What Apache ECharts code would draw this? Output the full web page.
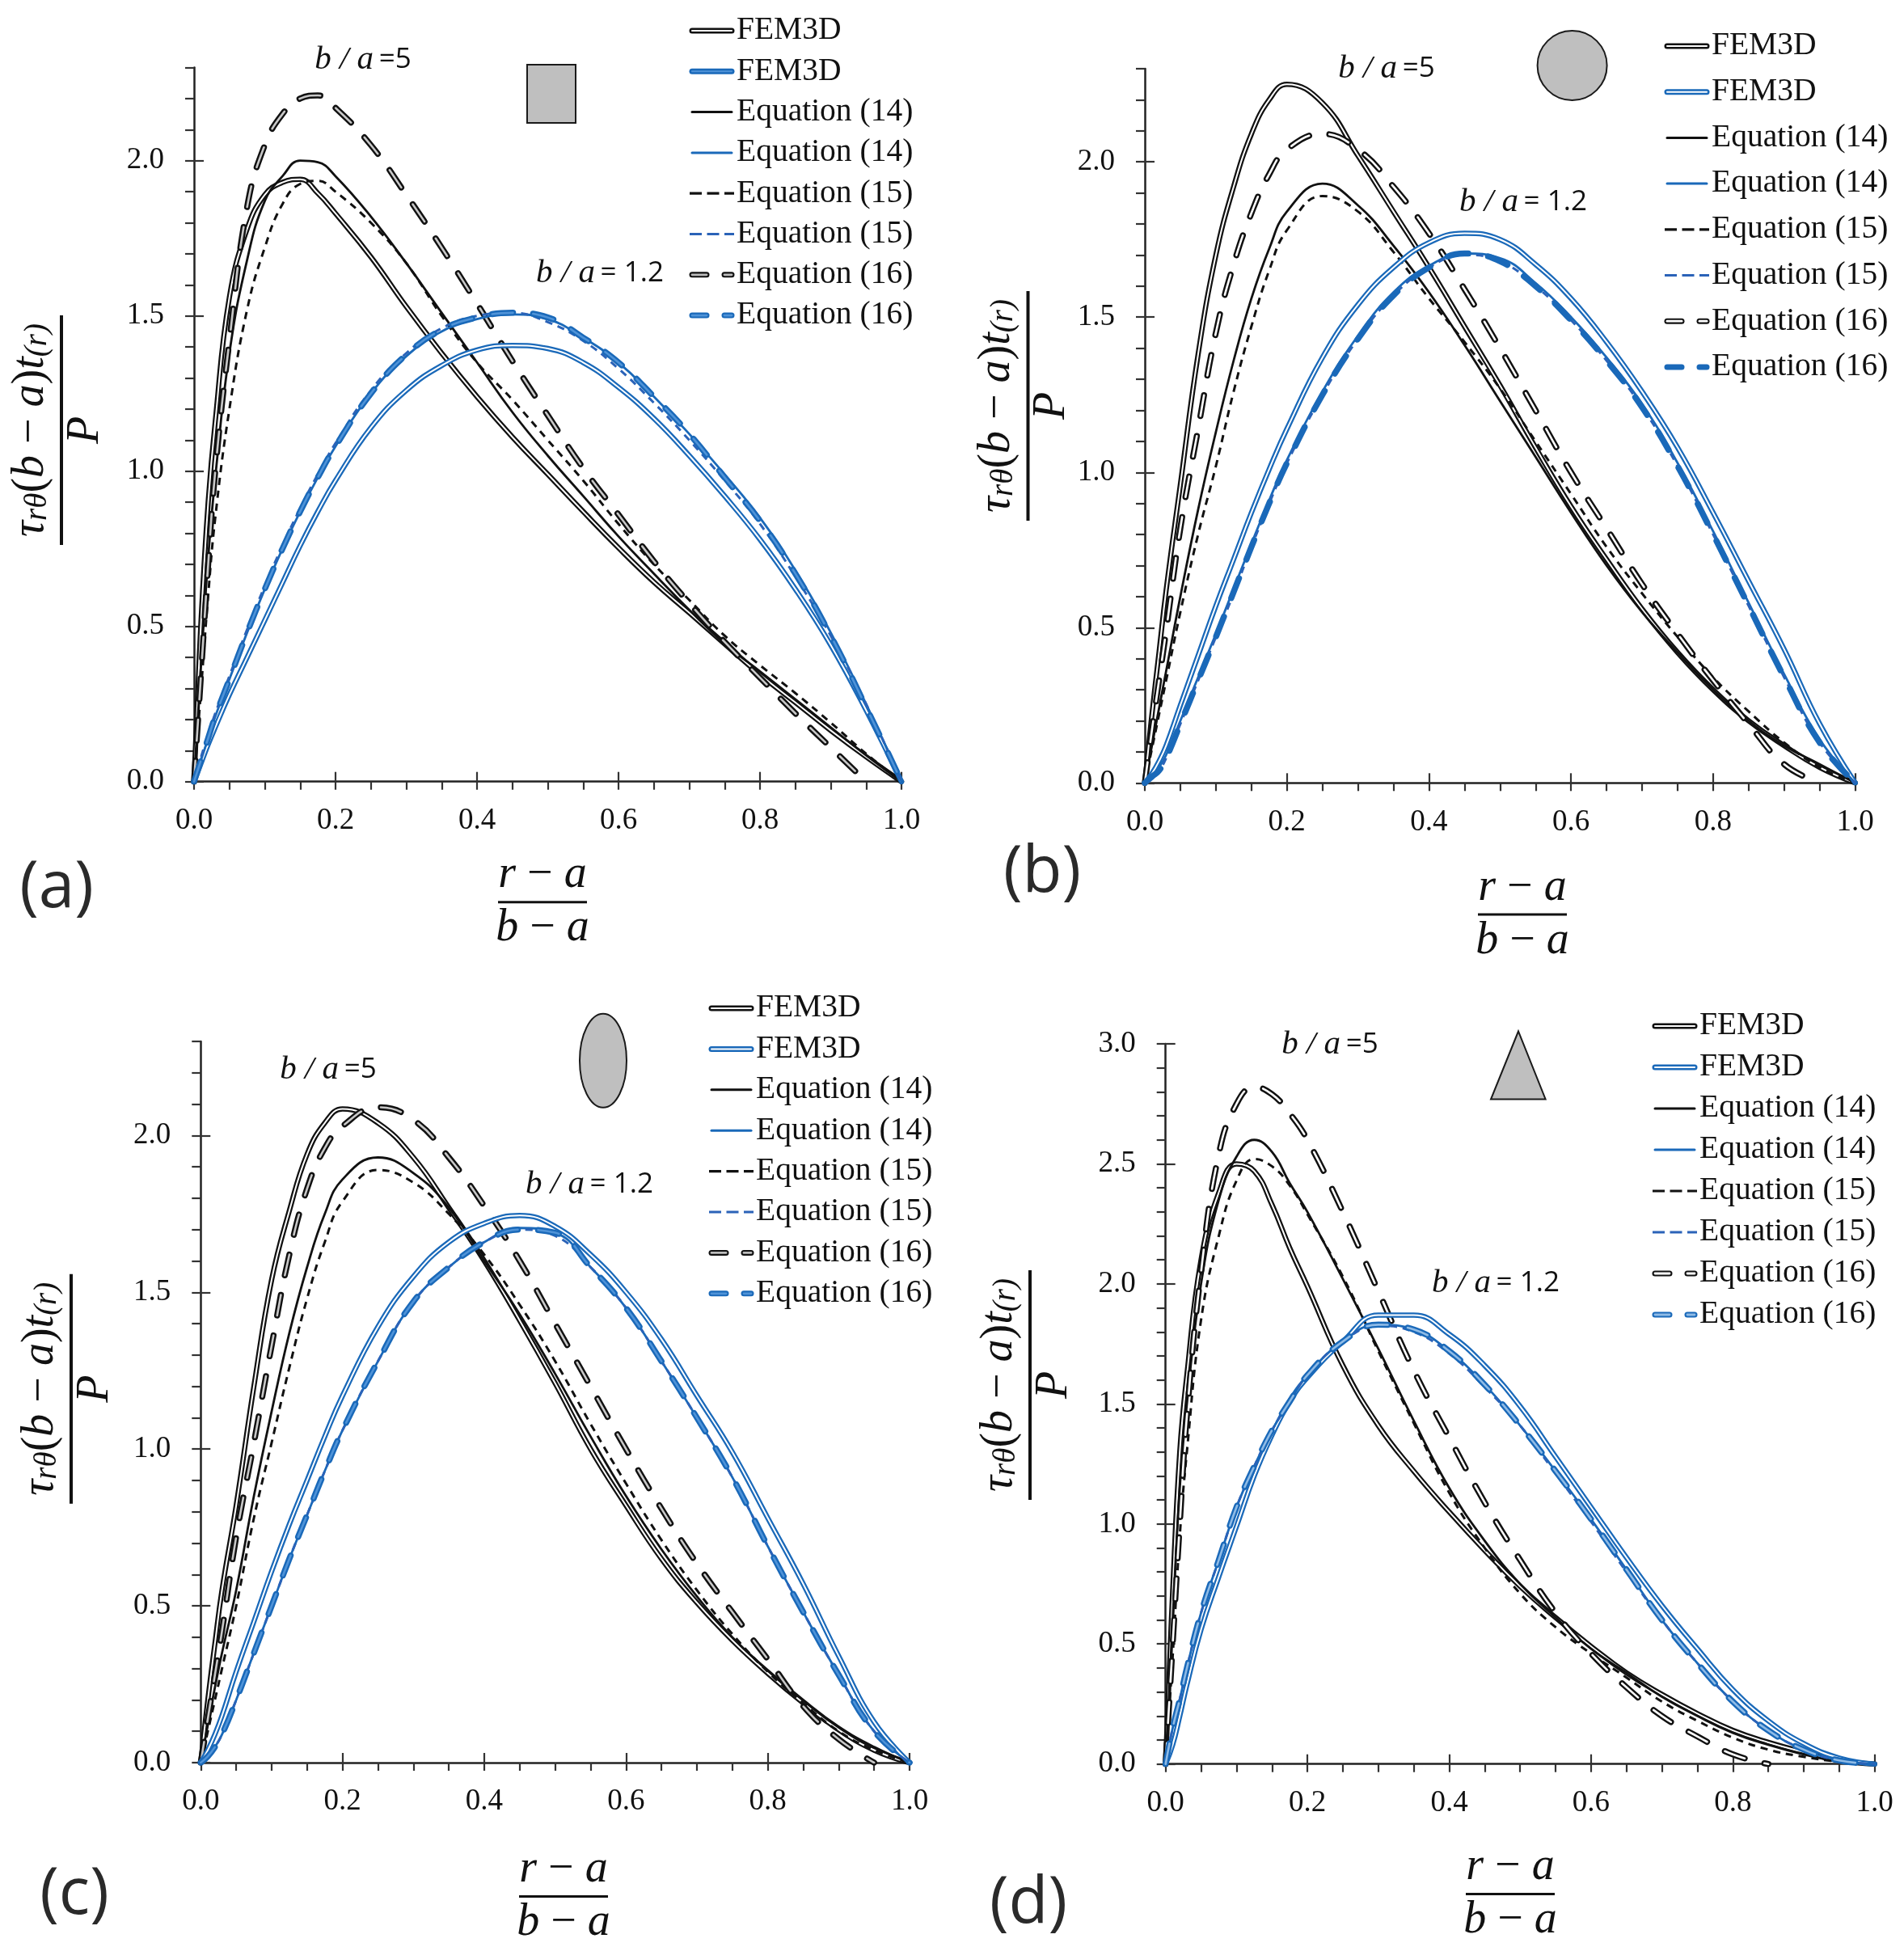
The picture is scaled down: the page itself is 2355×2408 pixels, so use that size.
<!DOCTYPE html>
<html><head><meta charset="utf-8">
<style>html,body{margin:0;padding:0;background:#fff}#c{width:2355px;height:2408px}</style>
<script src="https://cdn.jsdelivr.net/npm/echarts@6/dist/echarts.min.js"></script>
</head><body><div id="c"></div>
<script>
const xs=[0,.01,.02,.03,.05,.075,.1,.125,.15,.175,.2,.25,.3,.35,.4,.45,.5,.55,.6,.65,.7,.75,.8,.85,.9,.95,1];
const xTickLabels=[0,.2,.4,.6,.8,1];
// Panel (a) square
const aKFem=[0,.52,.9,1.16,1.56,1.78,1.89,1.93,1.94,1.895,1.83,1.69,1.53,1.38,1.24,1.11,.99,.87,.753,.643,.544,.444,.345,.255,.165,.08,0];
const aKEq14=[0,.38,.72,.98,1.38,1.68,1.87,1.95,2.0,1.995,1.95,1.82,1.67,1.51,1.35,1.19,1.05,.92,.79,.67,.553,.444,.355,.265,.175,.085,0];
const aKEq15=[0,.3,.6,.85,1.2,1.52,1.72,1.86,1.925,1.935,1.9,1.8,1.67,1.5,1.35,1.23,1.1,.97,.83,.7,.585,.47,.375,.285,.19,.09,0];
const aKEq16=[0,.35,.7,1.0,1.42,1.85,2.05,2.15,2.2,2.21,2.17,2.05,1.89,1.72,1.54,1.355,1.18,1.01,.86,.71,.575,.45,.335,.22,.11,0,null];
const aBFem=[0,.06,.12,.175,.28,.4,.52,.64,.76,.87,.97,1.14,1.26,1.34,1.39,1.405,1.395,1.35,1.27,1.17,1.05,.92,.78,.62,.44,.23,0];
const aBEq14=[0,.07,.14,.21,.33,.48,.62,.75,.87,.98,1.08,1.25,1.37,1.45,1.49,1.505,1.49,1.43,1.35,1.24,1.12,.99,.85,.68,.48,.25,0];
const aBEq15=[0,.08,.15,.22,.34,.49,.63,.76,.88,.99,1.09,1.26,1.38,1.46,1.5,1.51,1.48,1.42,1.33,1.22,1.1,.97,.83,.66,.47,.25,0];
const aBEq16=[0,.07,.14,.21,.33,.48,.62,.75,.87,.98,1.08,1.25,1.375,1.455,1.495,1.51,1.495,1.43,1.35,1.24,1.12,.98,.84,.67,.47,.24,0];
// Panel (b) circle
const bKFem=[0,.22,.42,.62,.96,1.38,1.7,1.92,2.09,2.2,2.25,2.19,2.02,1.84,1.66,1.47,1.28,1.08,.89,.72,.56,.42,.3,.2,.12,.05,0];
const bKEq14=[0,.12,.24,.36,.6,.88,1.13,1.36,1.56,1.72,1.84,1.93,1.86,1.73,1.58,1.41,1.23,1.05,.87,.7,.55,.42,.3,.2,.12,.06,0];
const bKEq15=[0,.11,.22,.33,.55,.8,1.02,1.26,1.47,1.65,1.78,1.89,1.84,1.71,1.56,1.42,1.27,1.1,.93,.76,.61,.47,.34,.23,.13,.05,0];
const bKEq16=[0,.17,.33,.49,.82,1.14,1.45,1.67,1.835,1.96,2.04,2.09,2.04,1.92,1.77,1.59,1.4,1.2,1.0,.82,.64,.48,.33,.19,.06,0,null];
const bBFem=[0,.03,.07,.12,.25,.41,.57,.72,.87,1.01,1.14,1.37,1.54,1.66,1.74,1.77,1.75,1.67,1.56,1.42,1.26,1.08,.87,.65,.43,.19,0];
const bBEq14=[0,.02,.05,.09,.2,.34,.48,.625,.77,.91,1.04,1.26,1.44,1.58,1.665,1.705,1.69,1.61,1.5,1.37,1.22,1.03,.81,.58,.35,.14,0];
const bBEq15=[0,.02,.04,.08,.19,.33,.47,.61,.76,.9,1.03,1.25,1.43,1.57,1.66,1.7,1.68,1.6,1.49,1.36,1.21,1.02,.8,.57,.34,.13,0];
const bBEq16=[0,.02,.04,.08,.19,.33,.47,.615,.76,.9,1.03,1.25,1.43,1.57,1.66,1.705,1.68,1.6,1.49,1.36,1.21,1.02,.8,.57,.34,.13,0];
// Panel (c) ellipse
const cKFem=[0,.2,.38,.55,.82,1.2,1.54,1.76,1.94,2.04,2.085,2.04,1.93,1.77,1.6,1.41,1.21,1.0,.82,.65,.51,.39,.285,.19,.105,.04,0];
const cKEq14=[0,.12,.24,.35,.55,.85,1.12,1.37,1.58,1.75,1.86,1.93,1.88,1.77,1.6,1.43,1.24,1.04,.85,.68,.53,.4,.295,.2,.115,.05,0];
const cKEq15=[0,.1,.2,.3,.5,.78,1.02,1.26,1.48,1.66,1.79,1.89,1.85,1.75,1.62,1.46,1.28,1.08,.89,.71,.55,.41,.29,.19,.1,.04,0];
const cKEq16=[0,.14,.28,.42,.72,1.02,1.33,1.62,1.83,1.96,2.03,2.09,2.05,1.93,1.775,1.6,1.4,1.2,1.0,.81,.635,.48,.33,.18,.075,0,null];
const cBFem=[0,.04,.09,.15,.29,.45,.61,.76,.9,1.04,1.17,1.39,1.55,1.66,1.72,1.745,1.71,1.62,1.5,1.35,1.17,.99,.78,.57,.34,.13,0];
const cBEq14=[0,.02,.05,.09,.2,.35,.5,.65,.79,.93,1.06,1.28,1.47,1.58,1.66,1.705,1.69,1.58,1.45,1.28,1.1,.91,.69,.48,.28,.1,0];
const cBEq15=[0,.02,.05,.09,.2,.35,.5,.65,.79,.93,1.06,1.28,1.47,1.58,1.66,1.7,1.68,1.58,1.45,1.28,1.1,.91,.69,.48,.28,.1,0];
const cBEq16=[0,.02,.05,.09,.2,.35,.5,.65,.79,.93,1.06,1.28,1.47,1.58,1.66,1.7,1.69,1.58,1.45,1.28,1.1,.91,.69,.48,.28,.1,0];
// Panel (d) triangle
const dKFem=[0,.72,1.3,1.62,2.1,2.38,2.5,2.47,2.33,2.15,1.99,1.66,1.41,1.22,1.05,.89,.74,.61,.49,.38,.29,.21,.14,.09,.05,.015,0];
const dKEq14=[0,.6,1.15,1.5,2.0,2.35,2.53,2.6,2.55,2.42,2.3,2.02,1.73,1.43,1.15,.93,.75,.61,.48,.38,.28,.2,.13,.08,.04,.01,0];
const dKEq15=[0,.45,.95,1.3,1.85,2.2,2.43,2.52,2.49,2.41,2.29,2.03,1.72,1.42,1.13,.9,.71,.57,.46,.36,.26,.18,.11,.06,.03,.01,0];
const dKEq16=[0,.5,1.0,1.45,2.05,2.54,2.75,2.82,2.79,2.71,2.6,2.3,1.97,1.64,1.36,1.09,.85,.63,.46,.32,.2,.115,.04,0,null,null,null];
const dBFem=[0,.08,.2,.33,.56,.78,.99,1.2,1.37,1.51,1.61,1.76,1.87,1.87,1.79,1.66,1.49,1.28,1.07,.86,.66,.48,.31,.18,.085,.025,0];
const dBEq14=[0,.15,.27,.4,.63,.85,1.07,1.24,1.39,1.51,1.62,1.76,1.83,1.81,1.72,1.58,1.41,1.22,1.02,.81,.6,.42,.26,.14,.06,.015,0];
const dBEq15=[0,.15,.27,.4,.63,.85,1.07,1.24,1.39,1.51,1.62,1.76,1.825,1.8,1.71,1.57,1.41,1.21,1.01,.8,.6,.42,.26,.14,.06,.015,0];
const dBEq16=[0,.15,.27,.4,.63,.85,1.07,1.24,1.39,1.51,1.62,1.76,1.83,1.81,1.72,1.58,1.41,1.22,1.02,.81,.6,.42,.26,.14,.06,.015,0];

const BLACK='#111111',BLUE='#1a69b9',BLUE15='#2b63b8';
const legendTexts=['FEM3D','FEM3D','Equation (14)','Equation (14)','Equation (15)','Equation (15)','Equation (16)','Equation (16)'];
const SERIF='Liberation Serif';

const panels=[
 {tag:'(a)',tagPos:[70,1099],g:[240,1115,83.5,966.7],yMax:2.3,yLabels:[0,.5,1,1.5,2],
  d:[aKFem,aKEq14,aKEq15,aKEq16,aBFem,aBEq14,aBEq15,aBEq16],
  leg:{x:853,y:38,dy:50.3},ba5:[449,74],ba12:[742,338],yFrac:[76,532],xFrac:[671,1115.7],
  femIn:'#4f93d8',eqIn:'#4f93d8',kIn:'#bdbdbd',
  shape:{type:'rect',shape:{x:652,y:80,width:60,height:72}}},
 {tag:'(b)',tagPos:[1289,1080],g:[1416,2294.7,85,968.3],yMax:2.3,yLabels:[0,.5,1,1.5,2],
  d:[bKFem,bKEq14,bKEq15,bKEq16,bBFem,bBEq14,bBEq15,bBEq16],
  leg:{x:2059,y:57,dy:56.7},ba5:[1715,85],ba12:[1884,250],yFrac:[1271.5,502],xFrac:[1883,1131],
  femIn:'#ffffff',eqIn:'#1a69b9',kIn:'#ffffff',
  shape:{type:'circle',shape:{cx:1944.6,cy:81,r:43}}},
 {tag:'(c)',tagPos:[92,2344],g:[248.3,1125,1288,2180],yMax:2.3,yLabels:[0,.5,1,1.5,2],
  d:[cKFem,cKEq14,cKEq15,cKEq16,cBFem,cBEq14,cBEq15,cBEq16],
  leg:{x:877,y:1247,dy:50.4},ba5:[406,1323],ba12:[729,1465],yFrac:[88,1717.7],xFrac:[697,2345.6],
  femIn:'#ffffff',eqIn:'#4f93d8',kIn:'#bdbdbd',
  shape:{type:'ellipse',shape:{cx:746,cy:1311.7,rx:29,ry:58}}},
 {tag:'(d)',tagPos:[1272,2355],g:[1441.7,2318.7,1291,2181.7],yMax:3,yLabels:[0,.5,1,1.5,2,2.5,3],
  d:[dKFem,dKEq14,dKEq15,dKEq16,dBFem,dBEq14,dBEq15,dBEq16],
  leg:{x:2044,y:1269,dy:51},ba5:[1645,1292],ba12:[1850,1587],yFrac:[1274,1713],xFrac:[1868,2342.5],
  femIn:'#ffffff',eqIn:'#8fbbe6',kIn:'#ffffff',
  shape:{type:'polygon',shape:{points:[[1878,1275.5],[1844,1359.5],[1911.6,1359.5]]}}}
];

const range=(n,st)=>Array.from({length:n},(_,i)=>+(i*st).toFixed(2));
const grid=[],xAxis=[],yAxis=[],series=[],graphic=[];
const axisLine={show:true,onZero:false,lineStyle:{color:'#222',width:2.5}};
const tickStyle={color:'#333',width:2.2};
const labelStyle={color:'#111',fontFamily:SERIF,fontSize:37,formatter:v=>(+v).toFixed(1)};

panels.forEach((p,i)=>{
 const [l,r,t,b]=p.g;
 grid.push({left:l,top:t,width:r-l,height:b-t,containLabel:false});
 const ix=xAxis.length, iy=yAxis.length;
 const yMinor=range(Math.round(p.yMax*10)+1,.1);
 xAxis.push({gridIndex:i,type:'value',min:0,max:1,interval:.05,position:'bottom',splitLine:{show:false},axisLine,
   axisTick:{show:true,length:10,lineStyle:tickStyle,customValues:range(21,.05)},
   axisLabel:{...labelStyle,margin:30,customValues:xTickLabels}});
 xAxis.push({gridIndex:i,type:'value',min:0,max:1,interval:.2,position:'bottom',splitLine:{show:false},axisLine:{show:false,onZero:false},
   axisTick:{show:true,inside:true,length:12,lineStyle:tickStyle,customValues:xTickLabels},axisLabel:{show:false}});
 yAxis.push({gridIndex:i,type:'value',min:0,max:p.yMax,interval:.1,position:'left',splitLine:{show:false},axisLine,
   axisTick:{show:true,length:11,lineStyle:tickStyle,customValues:yMinor},
   axisLabel:{...labelStyle,margin:37,customValues:p.yLabels}});
 yAxis.push({gridIndex:i,type:'value',min:0,max:p.yMax,interval:.5,position:'left',splitLine:{show:false},axisLine:{show:false,onZero:false},
   axisTick:{show:true,inside:true,length:12,lineStyle:tickStyle,customValues:p.yLabels},axisLabel:{show:false}});
 const add=(name,vals,st)=>series.push({name,type:'line',xAxisIndex:ix,yAxisIndex:iy,showSymbol:false,silent:true,
   smooth:.45,connectNulls:false,clip:true,animation:false,
   data:xs.map((x,k)=>[x,vals[k]]),lineStyle:{cap:'round',join:'round',...st}});
 const family=(off,color,c15,eqIn)=>{
  add('FEM3D',p.d[off],{color,width:6.5});
  add('FEM3D',p.d[off],{color:'#ffffff',width:2});
  add('Equation (14)',p.d[off+1],{color,width:2.8});
  add('Equation (15)',p.d[off+2],{color:c15,width:3,type:[9,7],cap:'butt'});
  add('Equation (16)',p.d[off+3],{color,width:7.5,type:[26,25]});
  add('Equation (16)',p.d[off+3],{color:eqIn,width:2.6,type:[26,25]});
 };
 family(0,BLACK,BLACK,p.kIn==='#ffffff'?'#ffffff':'#c8c8c8');
 family(4,BLUE,BLUE15,p.eqIn);

 // legend
 const L=p.leg, x0=L.x, x1=L.x+55;
 legendTexts.forEach((txt,k)=>{
  const y=L.y+k*L.dy, blue=k%2===1, col=blue?BLUE:BLACK, rowKind=k>>1;
  const seg=(a,c,col2,w,dash)=>graphic.push({type:'line',z:20,silent:true,shape:{x1:a,y1:y,x2:c,y2:y},
    style:{stroke:col2,lineWidth:w,lineCap:dash?'butt':'round',lineDash:dash||null}});
  if(rowKind===0){seg(x0+3,x1-3,col,7);seg(x0+3,x1-3,blue?p.femIn:'#ffffff',2);}
  if(rowKind===1){seg(x0+3,x1-3,col,3);}
  if(rowKind===2){seg(x0,x1,blue?BLUE15:BLACK,3.2,[15,6.5]);}
  if(rowKind===3){const inn=blue?p.eqIn:p.kIn;
    seg(x0+3,x0+21,col,7);seg(x0+3,x0+21,inn,2.8);seg(x0+43,x0+52,col,7);seg(x0+43,x0+52,inn,2.8);}
  graphic.push({type:'text',z:20,silent:true,x:x1+3,y,style:{text:txt,fill:'#111',font:'39.5px '+SERIF,textAlign:'left',textVerticalAlign:'middle'}});
 });

 // b/a annotations
 const baRich={i:{font:'italic 41px '+SERIF,fill:'#111'},r:{font:'35px Open Sans',fill:'#111'}};
 [[p.ba5,'{i|b / a}  {r|=5}'],[p.ba12,'{i|b / a}  {r|= 1.2}']].forEach(([pos,txt])=>graphic.push({type:'text',z:20,silent:true,x:pos[0],y:pos[1],
   style:{text:txt,rich:baRich,textAlign:'center',textVerticalAlign:'middle'}}));

 // shape icon
 graphic.push({...p.shape,z:20,silent:true,style:{fill:'#bfbfbf',stroke:'#1a1a1a',lineWidth:2}});

 // panel tag
 graphic.push({type:'text',z:20,silent:true,x:p.tagPos[0],y:p.tagPos[1],style:{text:p.tag,fill:'#2a2a2a',font:'80px Open Sans',textAlign:'center',textVerticalAlign:'middle'}});

 // fractions
 const M={m:{font:'italic 56px '+SERIF,fill:'#111'},s:{font:'italic 39px '+SERIF,fill:'#111',verticalAlign:'bottom',lineHeight:44},u:{font:'56px '+SERIF,fill:'#111'}};
 graphic.push({type:'group',x:p.yFrac[0],y:p.yFrac[1],rotation:Math.PI/2,z:20,silent:true,children:[
  {type:'line',z:20,shape:{x1:-142,y1:0,x2:142,y2:0},style:{stroke:'#111',lineWidth:4}},
  {type:'text',z:20,x:0,y:-38,style:{text:'{m|τ}{s|rθ}{u|(}{m|b}{u| − }{m|a}{u|)}{m|t}{s|(r)}',rich:M,textAlign:'center',textVerticalAlign:'middle'}},
  {type:'text',z:20,x:0,y:30,style:{text:'{m|P}',rich:M,textAlign:'center',textVerticalAlign:'middle'}}
 ]});
 graphic.push({type:'group',x:p.xFrac[0],y:p.xFrac[1],z:20,silent:true,children:[
  {type:'line',z:20,shape:{x1:-55,y1:0,x2:55,y2:0},style:{stroke:'#111',lineWidth:3}},
  {type:'text',z:20,x:0,y:-33,style:{text:'{m|r}{u| − }{m|a}',rich:M,textAlign:'center',textVerticalAlign:'middle'}},
  {type:'text',z:20,x:0,y:33,style:{text:'{m|b}{u| − }{m|a}',rich:M,textAlign:'center',textVerticalAlign:'middle'}}
 ]});
});

const chart=echarts.init(document.getElementById('c'),null,{renderer:'canvas',width:2355,height:2408});
chart.setOption({backgroundColor:'#ffffff',animation:false,textStyle:{fontFamily:SERIF},grid,xAxis,yAxis,series,graphic});
</script></body></html>
